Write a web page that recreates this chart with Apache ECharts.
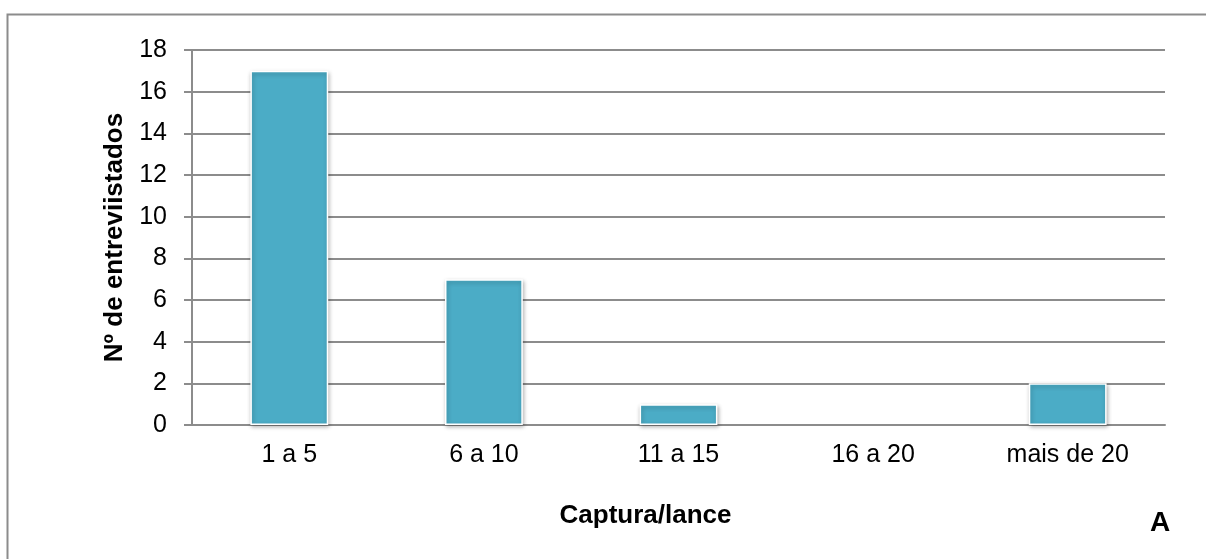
<!DOCTYPE html>
<html>
<head>
<meta charset="utf-8">
<script src="https://cdn.jsdelivr.net/npm/echarts@6/dist/echarts.min.js"></script>
<style>
  html, body { margin: 0; padding: 0; background: #fff; }
  #chart { width: 1206px; height: 559px; }
</style>
</head>
<body>
<div id="chart"></div>
<script>
// Catch size per haul, number of respondents per class
const categories = ['1 a 5', '6 a 10', '11 a 15', '16 a 20', 'mais de 20'];
const respondents = [17, 7, 1, 0, 2];
const yTicks = { min: 0, max: 18, interval: 2 };

const font = '"Liberation Sans", Arial, sans-serif';
const chart = echarts.init(document.getElementById('chart'), null, { renderer: 'canvas' });

// empty classes get no outline so nothing shows on the baseline
const barData = respondents.map(v => v > 0 ? v : {
  value: v,
  itemStyle: { borderWidth: 0, shadowBlur: 0, shadowOffsetX: 0, shadowOffsetY: 0 }
});

chart.setOption({
  animation: false,
  backgroundColor: '#fff',
  graphic: [
    {
      type: 'polyline',
      shape: { points: [[7.5, 560], [7.5, 14.5], [1207, 14.5]] },
      style: { stroke: '#8c8c8c', lineWidth: 2, fill: null },
      silent: true
    },
    {
      type: 'text',
      left: 1150, top: 509,
      style: { text: 'A', font: 'bold 28px ' + font, fill: '#000' }
    }
  ],
  grid: { left: 192, right: 41, top: 50, bottom: 134, containLabel: false },
  xAxis: {
    type: 'category',
    data: categories,
    name: 'Captura/lance',
    nameLocation: 'middle',
    nameGap: 78,
    nameTextStyle: {
      fontFamily: font, fontSize: 26, fontWeight: 'bold', color: '#000',
      padding: [0, 66, 0, 0]
    },
    axisLine: { show: true, lineStyle: { color: '#8c8c8c', width: 2 } },
    axisTick: { show: false },
    axisLabel: { fontFamily: font, fontSize: 25, color: '#000', margin: 18 }
  },
  yAxis: {
    type: 'value',
    min: yTicks.min, max: yTicks.max, interval: yTicks.interval,
    name: 'Nº de entreviistados',
    nameLocation: 'middle',
    nameGap: 62,
    nameTextStyle: { fontFamily: font, fontSize: 26, fontWeight: 'bold', color: '#000' },
    axisLine: { show: true, lineStyle: { color: '#8c8c8c', width: 2 } },
    axisTick: { show: true, inside: false, length: 8, lineStyle: { color: '#8c8c8c', width: 2 } },
    axisLabel: { fontFamily: font, fontSize: 25, color: '#000', margin: 25 },
    splitLine: { show: true, lineStyle: { color: '#8c8c8c', width: 2 } }
  },
  series: [{
    type: 'bar',
    data: barData,
    barWidth: '40%',
    itemStyle: {
      color: '#4BACC6',
      borderColor: '#ffffff',
      borderWidth: 1.5,
      shadowColor: 'rgba(0,0,0,0.3)',
      shadowBlur: 4,
      shadowOffsetX: 1,
      shadowOffsetY: 2
    }
  }]
});
</script>
</body>
</html>
